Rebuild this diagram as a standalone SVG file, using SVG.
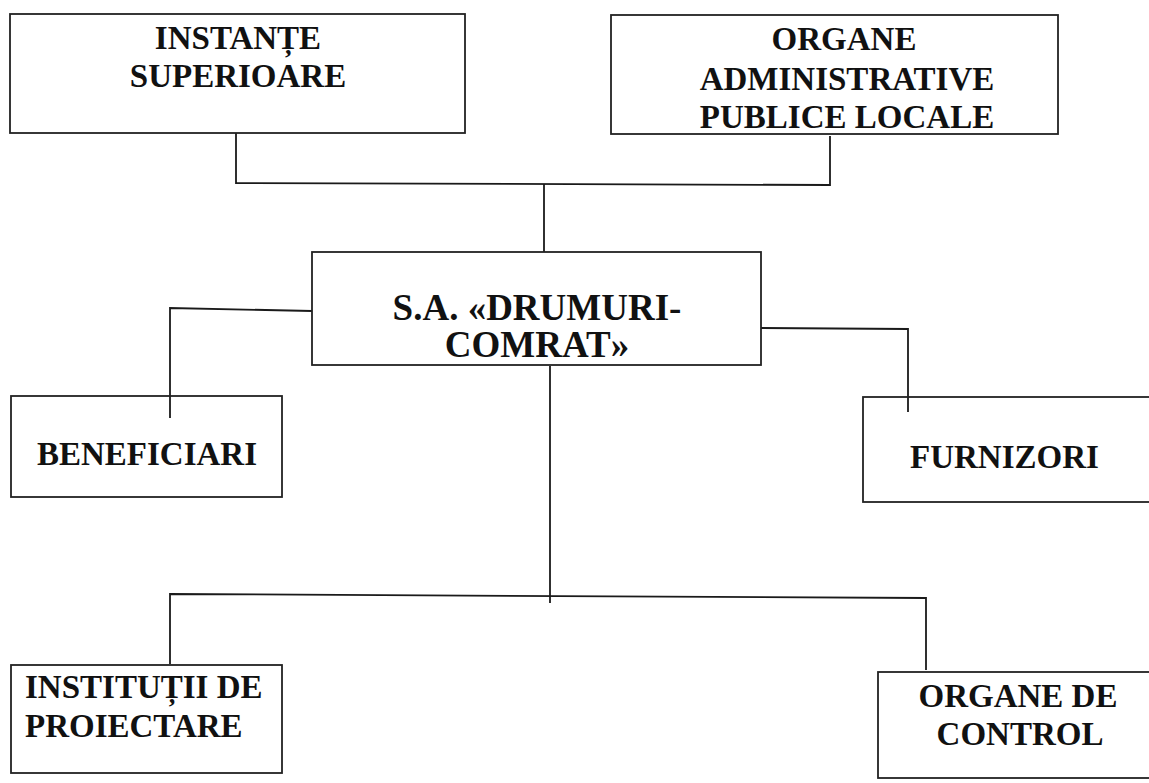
<svg xmlns="http://www.w3.org/2000/svg" width="1149" height="783" viewBox="0 0 1149 783">
<style>
.box{fill:none;stroke:#222;stroke-width:1.8}
.ln{fill:none;stroke:#1a1a1a;stroke-width:1.8}
text{font-family:"Liberation Serif","Times New Roman",serif;font-weight:bold;font-size:33px;fill:#111}
.c{text-anchor:middle}
.big{font-size:37px}
</style>
<rect width="1149" height="783" fill="#fff"/>
<g id="connectors">
<polyline class="ln" points="236,133 236,183 830,185 830,136"/>
<line class="ln" x1="544" y1="184" x2="544" y2="252"/>
<polyline class="ln" points="312,311 170,308 170,418"/>
<polyline class="ln" points="761,328 908,329 908,412"/>
<line class="ln" x1="550" y1="366" x2="550" y2="603"/>
<polyline class="ln" points="170,664 170,594 926,598 926,670"/>
</g>
<g id="node-instante">
<rect class="box" x="10" y="14" width="455" height="119"/>
<text class="c" x="238" y="49">INSTANȚE</text>
<text class="c" x="238" y="87">SUPERIOARE</text>
</g>
<g id="node-organe-admin">
<rect class="box" x="611" y="15" width="447" height="119"/>
<text class="c" x="844" y="50">ORGANE</text>
<text class="c" x="847" y="90">ADMINISTRATIVE</text>
<text class="c" x="847" y="128">PUBLICE LOCALE</text>
</g>
<g id="node-sa">
<rect class="box" x="312" y="252" width="449" height="113"/>
<text class="c big" x="537" y="320">S.A. «DRUMURI-</text>
<text class="c big" x="537" y="357">COMRAT»</text>
</g>
<g id="node-beneficiari">
<rect class="box" x="11" y="396" width="271" height="101"/>
<text class="c" x="147" y="465">BENEFICIARI</text>
</g>
<g id="node-furnizori">
<rect class="box" x="863" y="397" width="290" height="105"/>
<text x="910" y="468">FURNIZORI</text>
</g>
<g id="node-institutii">
<rect class="box" x="11" y="665" width="271" height="108"/>
<text x="25" y="698">INSTITUȚII DE</text>
<text x="25" y="737">PROIECTARE</text>
</g>
<g id="node-organe-control">
<rect class="box" x="878" y="672" width="275" height="106"/>
<text class="c" x="1018" y="707">ORGANE DE</text>
<text class="c" x="1020" y="745">CONTROL</text>
</g>
</svg>
